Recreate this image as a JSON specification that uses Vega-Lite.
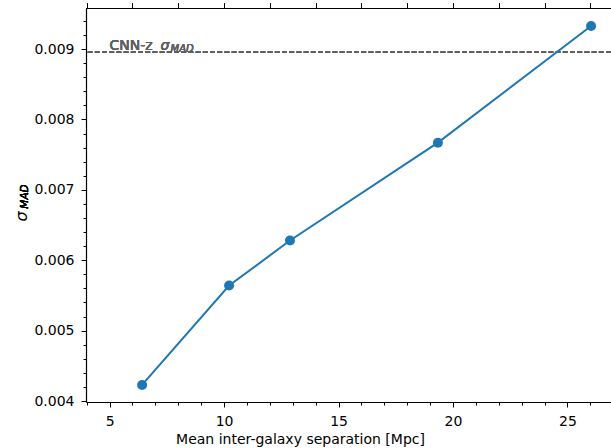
{
  "$schema": "https://vega.github.io/schema/vega-lite/v6.json",
  "autosize": "none",
  "padding": {"left": 86, "top": 8, "right": 0, "bottom": 46},
  "width": 525,
  "height": 394,
  "background": "white",
  "config": {
    "font": "DejaVu Sans",
    "view": {"stroke": null},
    "axis": {
      "labelFont": "DejaVu Sans",
      "titleFont": "DejaVu Sans",
      "labelFontSize": 14,
      "titleFontSize": 14,
      "labelColor": "black",
      "titleColor": "black",
      "titleFontWeight": "normal",
      "domainColor": "black",
      "tickColor": "black",
      "grid": false
    }
  },
  "data": {
    "values": [
      {"sep": 6.42, "sigma": 0.004228},
      {"sep": 10.22, "sigma": 0.00564},
      {"sep": 12.88, "sigma": 0.00628},
      {"sep": 19.34, "sigma": 0.00767},
      {"sep": 26.03, "sigma": 0.009327}
    ]
  },
  "layer": [
    {
      "mark": {"type": "point", "opacity": 0},
      "encoding": {
        "x": {
          "field": "sep", "type": "quantitative",
          "scale": {"domain": [3.97, 26.9], "nice": false, "zero": false},
          "axis": {"orient": "top", "title": null, "labels": false, "ticks": false, "values": [], "domain": true, "domainWidth": 1.2}
        },
        "y": {
          "field": "sigma", "type": "quantitative",
          "scale": {"domain": [0.003986, 0.009583], "nice": false, "zero": false},
          "axis": {"orient": "left", "title": null, "labels": false, "domain": false, "tickSize": 3,
                   "values": [0.004,0.0042,0.0044,0.0046,0.0048,0.005,0.0052,0.0054,0.0056,0.0058,0.006,0.0062,0.0064,0.0066,0.0068,0.007,0.0072,0.0074,0.0076,0.0078,0.008,0.0082,0.0084,0.0086,0.0088,0.009,0.0092,0.0094]}
        }
      }
    },
    {
      "mark": {"type": "point", "opacity": 0},
      "encoding": {
        "x": {
          "field": "sep", "type": "quantitative",
          "axis": {"orient": "bottom", "title": null, "labels": false, "domain": false, "tickSize": 3,
                   "values": [4,5,6,7,8,9,10,11,12,13,14,15,16,17,18,19,20,21,22,23,24,25,26]}
        }
      }
    },
    {
      "mark": {"type": "rule", "color": "#5e5e5e", "strokeWidth": 1.2, "strokeDash": [5, 2.2]},
      "encoding": {"y": {"datum": 0.008957, "type": "quantitative"}}
    },
    {
      "mark": {"type": "line", "color": "#1f77b4", "strokeWidth": 2,
               "point": {"filled": true, "size": 100, "color": "#1f77b4", "opacity": 1}},
      "encoding": {
        "x": {
          "field": "sep", "type": "quantitative",
          "axis": {"orient": "bottom", "title": "Mean inter-galaxy separation [Mpc]", "values": [5, 10, 15, 20, 25],
                   "tickSize": 5, "labelPadding": 7, "titlePadding": 4, "titleX": 214, "titleAlign": "center", "titleAnchor": "start", "domainWidth": 1.2}
        },
        "y": {
          "field": "sigma", "type": "quantitative",
          "axis": {"orient": "left", "title": "σ", "titleFontStyle": "italic", "titleFontSize": 16, "format": ".3f",
                   "titleX": -60, "titleY": 208, "titleAngle": -90, "titleAlign": "center", "titleBaseline": "alphabetic",
                   "values": [0.004, 0.005, 0.006, 0.007, 0.008, 0.009],
                   "tickSize": 5, "labelPadding": 7, "domainWidth": 1.2}
        }
      }
    },
    {
      "mark": {"type": "text", "text": "MAD", "angle": -90, "align": "center", "baseline": "alphabetic", "fontSize": 10.5, "fontStyle": "italic", "color": "black", "dy": -58.5},
      "encoding": {"x": {"datum": 3.97, "type": "quantitative"}, "y": {"datum": 0.006905, "type": "quantitative"}}
    },
    {
      "mark": {"type": "text", "text": "CNN-z", "align": "left", "baseline": "alphabetic", "fontSize": 14, "color": "#606060"},
      "encoding": {"x": {"datum": 5.0, "type": "quantitative"}, "y": {"datum": 0.00899, "type": "quantitative"}}
    },
    {
      "mark": {"type": "text", "text": "σ", "align": "left", "baseline": "alphabetic", "fontSize": 14, "fontStyle": "italic", "color": "#606060", "dx": 51},
      "encoding": {"x": {"datum": 5.0, "type": "quantitative"}, "y": {"datum": 0.00899, "type": "quantitative"}}
    },
    {
      "mark": {"type": "text", "text": "MAD", "align": "left", "baseline": "alphabetic", "fontSize": 10, "fontStyle": "italic", "color": "#606060", "dx": 61, "dy": 2},
      "encoding": {"x": {"datum": 5.0, "type": "quantitative"}, "y": {"datum": 0.00899, "type": "quantitative"}}
    }
  ],
  "resolve": {"axis": {"x": "independent", "y": "independent"}}
}
